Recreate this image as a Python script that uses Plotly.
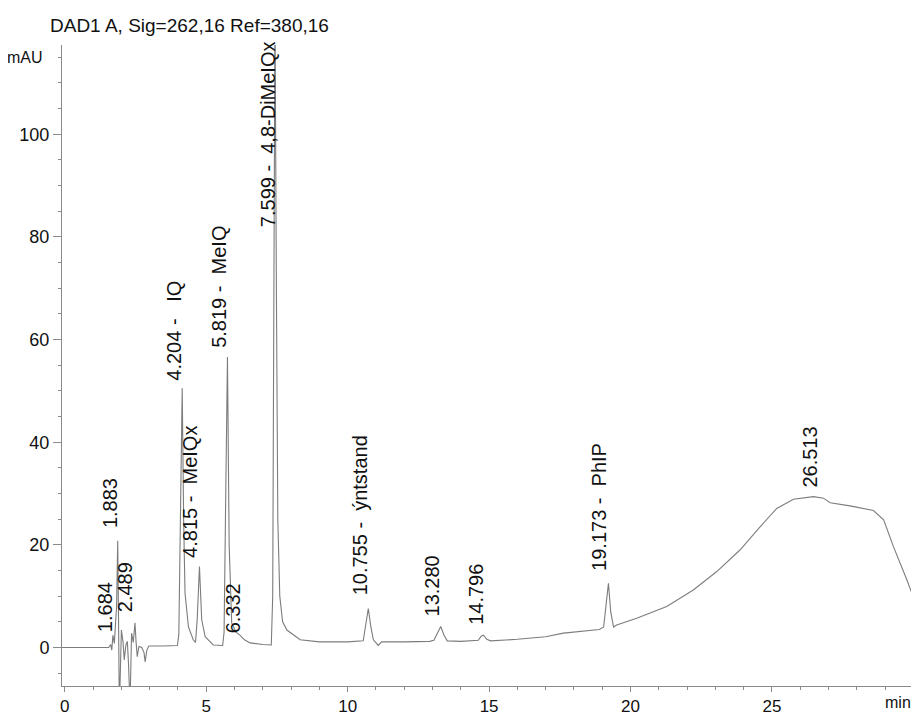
import plotly.graph_objects as go

# Chromatogram trace (time in min, signal in mAU)
time_min = [-0.1, 1.55, 1.62, 1.66, 1.70, 1.75, 1.83, 1.87, 1.90, 1.92, 1.95, 2.00, 2.06, 2.10,
            2.16, 2.21, 2.25, 2.28, 2.32, 2.36, 2.42, 2.48, 2.52, 2.56, 2.62, 2.72, 2.80, 2.84,
            2.90, 2.97, 3.5, 3.98, 4.03, 4.08, 4.15, 4.20, 4.25, 4.37, 4.54, 4.62, 4.68, 4.76,
            4.84, 4.96, 5.25, 5.58, 5.63, 5.69, 5.75, 5.81, 5.90, 6.05, 6.19, 6.35, 6.55, 7.0,
            7.30, 7.35, 7.39, 7.43, 7.48, 7.53, 7.60, 7.70, 7.85, 8.32, 9.0, 10.0, 10.55, 10.64,
            10.73, 10.82, 10.91, 11.08, 11.2, 12.0, 12.9, 13.05, 13.18, 13.29, 13.40, 13.52, 14.0,
            14.62, 14.72, 14.80, 14.92, 15.05, 16.0, 17.0, 17.63, 18.3, 18.9, 19.05, 19.14, 19.22,
            19.30, 19.40, 19.51, 20.22, 21.28, 22.22, 23.05, 23.87, 24.58, 25.17, 25.76, 26.47,
            26.82, 27.06, 27.76, 28.59, 28.95, 29.30, 29.77, 30.12, 30.13]
signal_mau = [0.0, 0.0, 0.6, -0.5, 2.4, 0.8, 8.0, 20.8, 5.0, -7.5, -7.5, 3.4, 1.0, -2.4,
              0.5, 1.2, -3.0, -7.5, -7.5, 2.8, 1.0, 4.8, 1.0, -1.8, 0.2, 0.0, -1.0, -2.8,
              -0.5, 0.3, 0.3, 0.4, 2.5, 20.0, 50.5, 25.0, 10.6, 4.0, 1.5, 1.0, 5.5, 15.8,
              5.4, 2.1, 0.5, 0.4, 3.0, 30.0, 56.6, 20.0, 4.8, 3.0, 2.4, 1.5, 0.9, 0.6,
              0.5, 10.0, 60.0, 125.0, 70.0, 25.0, 10.0, 5.0, 3.4, 1.5, 1.1, 1.1, 1.3, 4.5,
              7.6, 4.0, 1.5, 0.4, 1.1, 1.1, 1.2, 1.4, 3.0, 4.1, 2.5, 1.3, 1.2,
              1.4, 2.2, 2.4, 1.6, 1.3, 1.6, 2.1, 2.8, 3.1, 3.5, 4.0, 9.0, 12.5,
              7.0, 4.0, 4.4, 5.7, 8.0, 11.2, 14.8, 19.0, 23.5, 27.1, 28.9, 29.4,
              29.1, 28.2, 27.6, 26.7, 24.9, 19.6, 13.2, 8.0, -7.5]

# Peak labels: text, label centre time, label base height (mAU)
peak_labels = ["1.684", "1.883", "2.489", "4.204 -   IQ", "4.815 -  MeIQx", "5.819 -  MeIQ",
               "6.332", "7.599 -  4,8-DiMeIQx", "10.755 -  ýntstand", "13.280", "14.796",
               "19.173 -  PhIP", "26.513"]
label_time = [1.42, 1.60, 2.13, 3.86, 4.43, 5.45, 5.95, 7.18, 10.44, 12.98, 14.55, 18.88, 26.35]
label_base = [2.6, 22.9, 6.5, 51.6, 17.1, 58.0, 2.4, 81.5, 9.8, 5.75, 4.0, 14.5, 30.7]

x_ticks = [0, 5, 10, 15, 20, 25]
y_ticks = [0, 20, 40, 60, 80, 100]

FONT = "Liberation Sans, Arial, sans-serif"
W, H = 911, 708  # page body has an 8px margin

fig = go.Figure()
fig.add_trace(go.Scatter(x=time_min, y=signal_mau, mode="lines",
                         line=dict(color="#7c7c7c", width=1.1), hoverinfo="skip",
                         showlegend=False))

for txt, tx, ty in zip(peak_labels, label_time, label_base):
    fig.add_annotation(x=tx, y=ty, xref="x", yref="y", text=txt, textangle=-90,
                       showarrow=False, xanchor="center", yanchor="bottom",
                       font=dict(family=FONT, size=20, color="#111111"))

fig.add_annotation(x=0, y=115, xref="paper", yref="y", text="mAU", showarrow=False,
                   xanchor="right", yanchor="middle", xshift=-17,
                   font=dict(family=FONT, size=16, color="#111111"))
fig.add_annotation(x=1, y=0, xref="paper", yref="paper", text="min", showarrow=False,
                   xanchor="right", yanchor="top", yshift=-6, xshift=-6,
                   font=dict(family=FONT, size=16, color="#111111"))

fig.update_layout(
    width=W, height=H,
    margin=dict(l=54, r=0, t=37, b=30),
    paper_bgcolor="white", plot_bgcolor="white",
    title=dict(text="DAD1 A, Sig=262,16 Ref=380,16", x=42 / W, xanchor="left",
               xref="container", y=1 - 17 / H, yref="container", yanchor="middle",
               pad=dict(l=0, r=0, t=0, b=0),
               font=dict(family=FONT, size=19, color="#111111")),
    xaxis=dict(range=[-0.1, 30.2], tickvals=x_ticks, ticktext=[str(v) for v in x_ticks],
               showgrid=False, zeroline=False, showline=True, linecolor="#8a8a8a",
               linewidth=1, ticks="outside", ticklen=5, tickcolor="#8a8a8a",
               minor=dict(dtick=1, ticks="outside", ticklen=3, tickcolor="#8a8a8a"),
               tickfont=dict(family=FONT, size=17, color="#111111")),
    yaxis=dict(range=[-7.5, 117.4], tickvals=y_ticks, ticktext=[str(v) for v in y_ticks],
               showgrid=False, zeroline=False, showline=True, linecolor="#8a8a8a",
               linewidth=1, ticks="outside", ticklen=8, tickcolor="#8a8a8a",
               minor=dict(dtick=5, tick0=0, ticks="outside", ticklen=3, tickcolor="#8a8a8a"),
               tickfont=dict(family=FONT, size=18, color="#111111")),
)

fig.write_html("out.html")
